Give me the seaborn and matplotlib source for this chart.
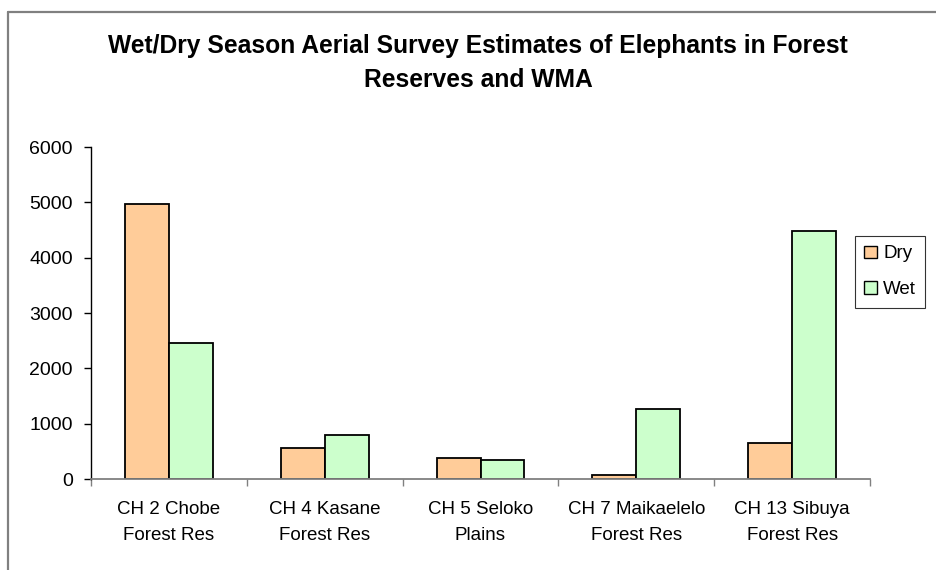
import matplotlib
matplotlib.use("Agg")
import matplotlib.pyplot as plt
from matplotlib.ticker import FixedLocator
import seaborn as sns
import pandas as pd

# Survey data
areas = [
    "CH 2 Chobe\nForest Res",
    "CH 4 Kasane\nForest Res",
    "CH 5 Seloko\nPlains",
    "CH 7 Maikaelelo\nForest Res",
    "CH 13 Sibuya\nForest Res",
]
dry = [4970, 555, 380, 75, 655]
wet = [2460, 790, 345, 1265, 4490]
seasons = ["Dry", "Wet"]
season_colors = ["#FFCC99", "#CCFFCC"]
title = "Wet/Dry Season Aerial Survey Estimates of Elephants in Forest\nReserves and WMA"

df = pd.DataFrame({
    "Area": areas * 2,
    "Season": [seasons[0]] * len(areas) + [seasons[1]] * len(areas),
    "Count": dry + wet,
})

sns.set_theme(style="white")
plt.rcParams["font.family"] = ["Liberation Sans", "DejaVu Sans"]
plt.rcParams["text.color"] = "black"

fig = plt.figure(figsize=(9.36, 5.70), dpi=100)
ax = fig.add_axes([91 / 936, 1 - 479 / 570, (870 - 91) / 936, (479 - 147) / 570])

sns.barplot(
    data=df, x="Area", y="Count", hue="Season", order=areas, hue_order=seasons,
    palette=season_colors, width=0.564, gap=0, edgecolor="black", linewidth=1.3,
    saturation=1, ax=ax, legend=True,
)

ax.set_xlim(-0.5, len(areas) - 0.5)
ax.set_ylim(0, 6000)
ax.set_yticks(range(0, 6001, 1000))
ax.set_xlabel("")
ax.set_ylabel("")

# spines: black value axis, gray category axis
for side in ["top", "right"]:
    ax.spines[side].set_visible(False)
ax.spines["left"].set_color("black")
ax.spines["left"].set_linewidth(1.0)
ax.spines["bottom"].set_color("#808080")
ax.spines["bottom"].set_linewidth(1.3)

ax.tick_params(axis="y", which="major", left=True, length=5, width=1.0,
               color="black", labelsize=14, pad=8, labelcolor="black")
ax.tick_params(axis="x", which="major", bottom=False, labelsize=13.5, pad=9.5,
               labelcolor="black")
ax.xaxis.set_minor_locator(FixedLocator([i - 0.5 for i in range(len(areas) + 1)]))
ax.tick_params(axis="x", which="minor", bottom=True, length=5, width=1.0,
               color="#808080")
for lbl in ax.get_xticklabels():
    lbl.set_linespacing(1.75)

leg = ax.legend(
    loc="upper left", bbox_to_anchor=(855 / 936, 1 - 236 / 570),
    bbox_transform=fig.transFigure, frameon=True, fancybox=False,
    edgecolor="black", fontsize=13.5, handlelength=0.65, handleheight=0.65,
    handletextpad=0.35, borderpad=0.5, labelspacing=1.0, borderaxespad=0,
)
leg.get_frame().set_linewidth(0.8)
for h in leg.legend_handles:
    h.set_edgecolor("black")
    h.set_linewidth(1.0)
for t in leg.get_texts():
    t.set_color("black")

fig.text(0.511, 1 - 63 / 570, title, ha="center", va="center", color="black",
         fontsize=17.7, fontweight="bold", linespacing=1.55)

# chart-area border (top and left)
fig.add_artist(plt.Line2D([8 / 936, 8 / 936], [0, 1 - 12 / 570],
                          transform=fig.transFigure, color="#808080", lw=1.6))
fig.add_artist(plt.Line2D([8 / 936, 1], [1 - 12 / 570, 1 - 12 / 570],
                          transform=fig.transFigure, color="#808080", lw=1.6))

fig.savefig("out.png", dpi=100)
